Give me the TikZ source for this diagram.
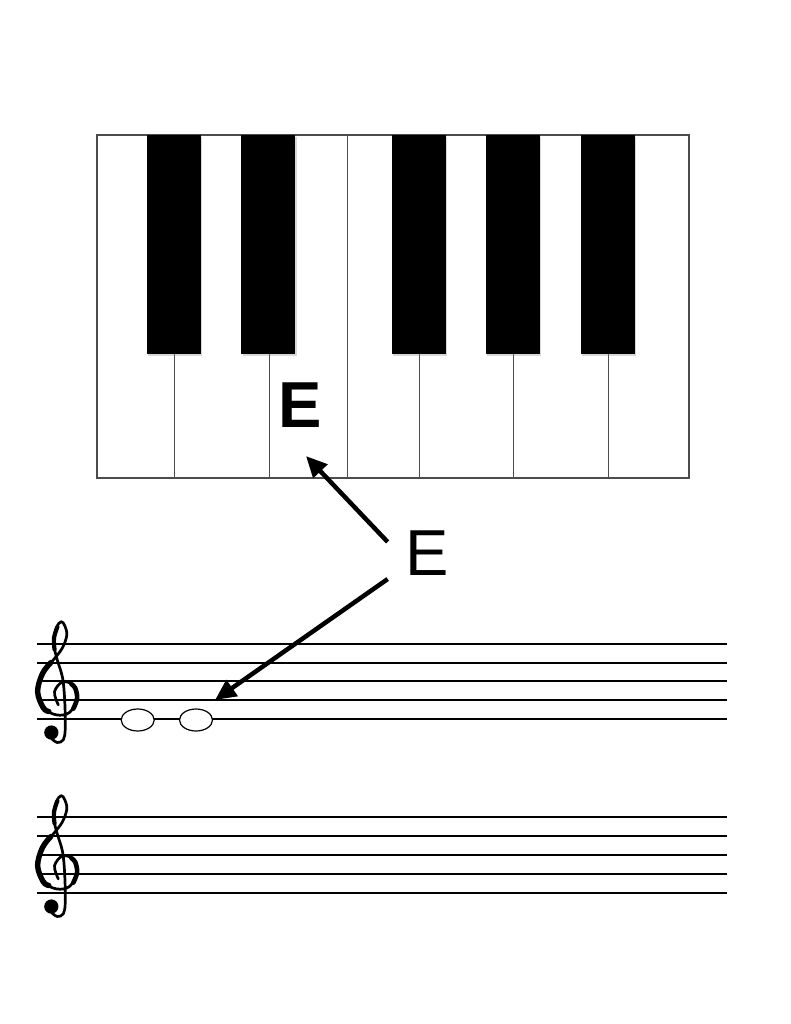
\documentclass[tikz,border=0pt]{standalone}
\usepackage{fontspec}
\setmainfont{Liberation Sans}
\usetikzlibrary{arrows.meta,positioning,shapes.geometric,shadows}

\tikzset{
  whitekey/.style={rectangle, draw=black!70, line width=1.2pt, fill=white, inner sep=0pt, outer sep=0pt, minimum height=343pt},
  blackkey/.style={rectangle, fill=black, inner sep=0pt, outer sep=0pt, minimum width=54pt, minimum height=219pt, anchor=north,
    drop shadow={shadow xshift=1.5pt, shadow yshift=-2pt, opacity=0.3}},
  staffline/.style={line width=2pt},
  wholenote/.style={ellipse, draw, line width=1.2pt, fill=white, minimum width=33pt, minimum height=22pt, inner sep=0pt},
  pointer/.style={line width=4.5pt, -{Triangle[length=21pt,width=19pt]}},
  bigletter/.style={inner sep=0pt, font=\fontsize{65}{65}\selectfont},
  clefpen/.style={x=18.8pt, y=18.8pt, line cap=round, line join=round},
  gclef/.pic={
    \draw[clefpen, line width=2.7pt]
      plot[smooth, tension=0.6] coordinates {(-0.25,0.75) (-0.45,1.45) (0.0,1.98) (0.6,1.75) (0.75,1.1) (0.35,0.35) (-0.35,0.22) (-1.05,0.6) (-1.35,1.45) (-1.1,2.4) (-0.55,3.1) (-0.05,3.75) (0.2,4.45) (0.1,4.95) (-0.1,5.18) (-0.35,4.85) (-0.5,4.1) (-0.35,3.3) (-0.1,2.5) (0.02,1.9) (0.1,0.8) (0.12,-0.5) (0.02,-1.1) (-0.3,-1.25) (-0.6,-1.05)};
    \draw[clefpen, line width=5.4pt]
      plot[smooth, tension=0.6] coordinates {(-0.75,0.4) (-1.05,0.6) (-1.35,1.45) (-1.1,2.4) (-0.65,3.0)};
    \draw[clefpen, line width=4.6pt]
      plot[smooth, tension=0.6] coordinates {(0.45,1.85) (0.65,1.65) (0.75,1.1) (0.55,0.55)};
    \draw[clefpen, line width=4.2pt]
      plot[smooth, tension=0.6] coordinates {(-0.3,4.9) (-0.48,4.3) (-0.45,3.7)};
    \fill[clefpen] (-0.62,-0.72) circle[radius=0.38];
  }
}

\begin{document}
\begin{tikzpicture}[x=1pt, y=-1pt]
  \useasboundingbox (0,0) rectangle (791,1024);
  \fill[white] (0,0) rectangle (791,1024);

  \foreach \n/\l/\r in {C/97/174.5, D/174.5/269.2, E/269.2/347.5, F/347.5/419.8, G/419.8/513.6, A/513.6/608.7, B/608.7/689}
    \node[whitekey, minimum width={(\r-\l)*1pt}] (key\n) at ({(\l+\r)/2}, 306.5) {};

  \node[blackkey] (keyCs) at ([xshift=-1pt]keyC.north east) {};
  \node[blackkey] (keyDs) at ([xshift=-1pt]keyD.north east) {};
  \node[blackkey] (keyFs) at ([xshift=-1pt]keyF.north east) {};
  \node[blackkey] (keyGs) at ([xshift=-1pt]keyG.north east) {};
  \node[blackkey] (keyAs) at ([xshift=-1pt]keyA.north east) {};

  \node[bigletter, font=\fontsize{65}{65}\selectfont\bfseries] (keyLabel) at (300,405.5) {E};
  \node[bigletter] (noteName) at (427.5,553.5) {E};

  \foreach \i in {0,...,4} {
    \draw[staffline] (37,{719-18.8*\i}) -- (727,{719-18.8*\i});
    \draw[staffline] (37,{893-19*\i}) -- (727,{893-19*\i});
  }
  \pic at (63,719) {gclef};
  \pic at (63,893) {gclef};

  \node[wholenote] (noteA) at (137.7,720) {};
  \node[wholenote] (noteB) at (196,720) {};

  \draw[pointer] ([xshift=-18pt,yshift=-11pt]noteName.north west) -- ([xshift=6pt,yshift=-28pt]keyLabel.south);
  \draw[pointer] ([xshift=-18pt,yshift=-3pt]noteName.south west) -- ([xshift=19pt,yshift=20pt]noteB.center);
\end{tikzpicture}
\end{document}
